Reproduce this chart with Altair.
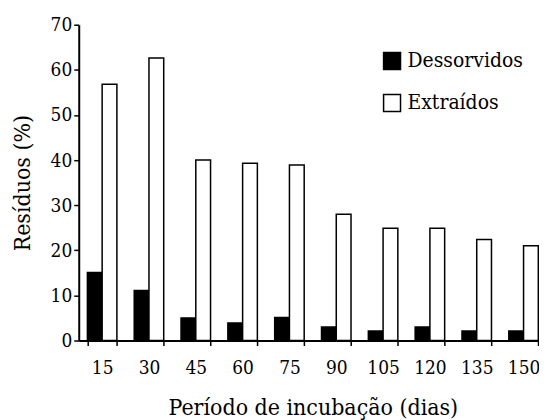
import altair as alt
import pandas as pd

periods = ["15", "30", "45", "60", "75", "90", "105", "120", "135", "150"]
dessorvidos = [15.1, 11.1, 5.0, 3.9, 5.1, 3.0, 2.1, 3.0, 2.1, 2.1]
extraidos = [56.8, 62.6, 40.0, 39.3, 38.9, 28.0, 24.9, 24.9, 22.4, 21.0]
series = ["Dessorvidos", "Extraídos"]
y_ticks = [0, 10, 20, 30, 40, 50, 60, 70]

rows = []
for p, d, e in zip(periods, dessorvidos, extraidos):
    rows.append({"periodo": p, "serie": series[0], "valor": d})
    rows.append({"periodo": p, "serie": series[1], "valor": e})
df = pd.DataFrame(rows)

FONT = "DejaVu Serif Condensed"

chart = alt.Chart(df).mark_bar(stroke="black", strokeWidth=1.5).encode(
    x=alt.X(
        "periodo:N",
        sort=periods,
        scale=alt.Scale(paddingInner=0.37, paddingOuter=0.185),
        axis=alt.Axis(
            title="Período de incubação (dias)",
            labelAngle=0,
            tickBand="extent",
            labelPadding=13,
            titlePadding=37,
            titleBaseline="alphabetic",
            labelFont=FONT,
            titleFont=FONT,
        ),
    ),
    xOffset=alt.XOffset("serie:N", sort=series),
    y=alt.Y(
        "valor:Q",
        scale=alt.Scale(domain=[0, 70], nice=False),
        axis=alt.Axis(title="Resíduos (%)", values=y_ticks, labelPadding=2, titlePadding=16,
                      labelFont=FONT, titleFont=FONT),
    ),
    fill=alt.Fill(
        "serie:N",
        sort=series,
        scale=alt.Scale(domain=series, range=["black", "white"]),
        legend=alt.Legend(
            title=None,
            orient="none",
            legendX=304,
            legendY=26,
            symbolType="square",
            symbolSize=289,
            symbolStrokeColor="black",
            symbolStrokeWidth=1.5,
            labelFont=FONT,
            labelFontSize=21,
            labelColor="black",
            labelOffset=5,
            rowPadding=19,
            padding=0,
        ),
    ),
).properties(
    width=470,
    height=317,
    autosize=alt.AutoSizeParams(type="none"),
    padding={"left": 71, "top": 16, "right": -8, "bottom": 79},
).configure_view(
    stroke=None
).configure_axis(
    grid=False,
    domainColor="black",
    domainWidth=2,
    tickColor="black",
    tickWidth=1.5,
    tickSize=5,
    labelFontSize=19,
    labelColor="black",
    titleFontSize=23,
    titleFontWeight="normal",
    titleColor="black",
)

chart.save("out.html", embed_options={"renderer": "svg", "actions": False})
